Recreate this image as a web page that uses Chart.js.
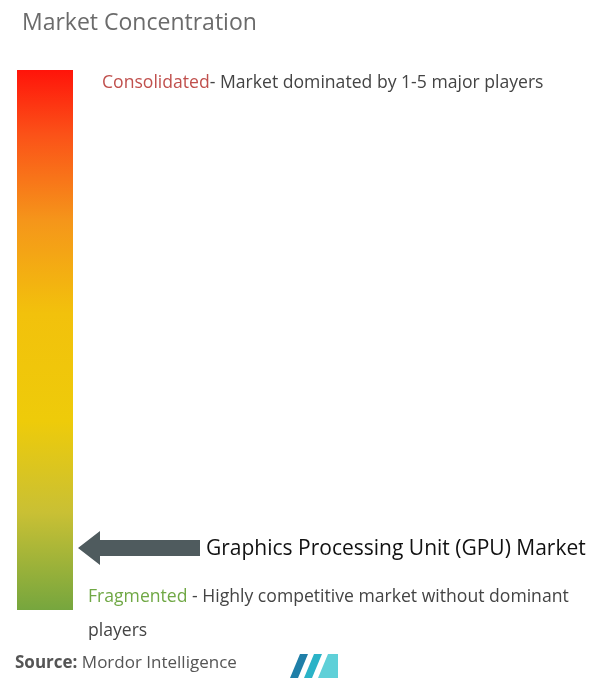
<!DOCTYPE html>
<html>
<head>
<meta charset="utf-8">
<script src="https://cdn.jsdelivr.net/npm/chart.js@4"></script>
<style>
body{margin:0;background:#fff;font-family:"Open Sans",sans-serif;}
#wrap{position:relative;width:598px;height:698px;}
#c{position:absolute;left:0;top:0;}
.t{position:absolute;white-space:nowrap;}
</style>
</head>
<body>
<div id="wrap">
<canvas id="c" width="598" height="698"></canvas>
<div class="t" style="left:22px;top:5px;font-size:23px;color:#6b6b6b;">Market Concentration</div>
<div class="t" style="left:102px;top:69px;font-size:17.6px;color:#444;"><span style="color:#c0504d">Consolidated</span>- Market dominated by 1-5 major players</div>
<div class="t" style="left:206px;top:533px;font-size:21px;color:#111;">Graphics Processing Unit (GPU) Market</div>
<div class="t" style="left:88px;top:583px;font-size:17.6px;color:#444;"><span style="color:#70a845">Fragmented</span> - Highly competitive market without dominant</div>
<div class="t" style="left:88px;top:617px;font-size:17.6px;color:#444;">players</div>
<div class="t" style="left:15px;top:650px;font-size:17px;color:#555;"><b>Source:</b> Mordor Intelligence</div>
<svg class="t" style="left:290px;top:652px" width="50" height="28">
<polygon points="0,26 10,2 18,2 8,26" fill="#1f7fa8"/>
<polygon points="14,26 24,2 32,2 22,26" fill="#2bb3c7"/>
<polygon points="28,26 38,2 48,2 48,26" fill="#5fd0d8"/>
</svg>
</div>
<script>
var categories = ['Market'];
var scaleRange = [[0, 100]]; // fragmented (0) to consolidated (100)
var marketPosition = 11.5; // where the GPU market sits

var arrowPlugin = {
    id: 'arrow',
    afterDatasetsDraw: function (chart) {
        var ctx = chart.ctx;
        var y = chart.scales.y.getPixelForValue(marketPosition);
        var x0 = chart.chartArea.right + 5;
        ctx.save();
        ctx.fillStyle = '#4f5b5e';
        ctx.beginPath();
        ctx.moveTo(x0, y);
        ctx.lineTo(x0 + 22, y - 17);
        ctx.lineTo(x0 + 22, y - 8);
        ctx.lineTo(x0 + 122, y - 8);
        ctx.lineTo(x0 + 122, y + 8);
        ctx.lineTo(x0 + 22, y + 8);
        ctx.lineTo(x0 + 22, y + 17);
        ctx.closePath();
        ctx.fill();
        ctx.restore();
    }
};

new Chart(document.getElementById('c'), {
    type: 'bar',
    data: {
        labels: categories,
        datasets: [{
            data: scaleRange,
            barPercentage: 1,
            categoryPercentage: 1,
            backgroundColor: function (context) {
                var area = context.chart.chartArea;
                if (!area) return '#f5c400';
                var g = context.chart.ctx.createLinearGradient(0, area.top, 0, area.bottom);
                g.addColorStop(0, '#ff140a');
                g.addColorStop(0.12, '#fb5218');
                g.addColorStop(0.28, '#f5961a');
                g.addColorStop(0.45, '#f2c10c');
                g.addColorStop(0.65, '#eecb0a');
                g.addColorStop(0.82, '#c9c034');
                g.addColorStop(1, '#76a63e');
                return g;
            }
        }]
    },
    options: {
        responsive: false,
        animation: false,
        layout: {padding: {left: 17, right: 525, top: 70, bottom: 88}},
        plugins: {legend: {display: false}, tooltip: {enabled: false}},
        scales: {
            x: {display: false},
            y: {display: false, min: 0, max: 100}
        }
    },
    plugins: [arrowPlugin]
});
</script>
</body>
</html>
